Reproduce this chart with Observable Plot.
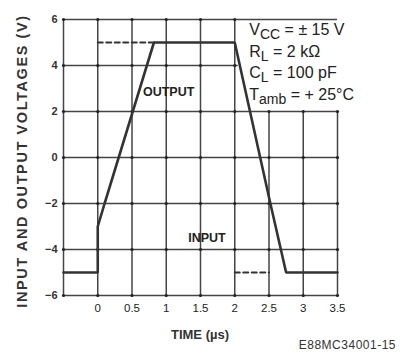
<!DOCTYPE html>
<html>
<head>
<meta charset="utf-8">
<script src="https://cdn.jsdelivr.net/npm/d3@7"></script>
<script src="https://cdn.jsdelivr.net/npm/@observablehq/plot@0.6"></script>
<style>
  html, body { margin: 0; padding: 0; background: #ffffff; }
  #chart { width: 404px; height: 355px; }
</style>
</head>
<body>
<div id="chart"></div>
<script>
// ---- data ----
const timeTicks = [0, 0.5, 1, 1.5, 2, 2.5, 3, 3.5];
const timeTickLabels = ["0", "0.5", "1", "1.5", "2", "2.5", "3", "3.5"];
const voltTicks = [-6, -4, -2, 0, 2, 4, 6];
const voltTickLabels = ["\u22126", "\u22124", "\u22122", "0", "2", "4", "6"];
const timeDomain = [-0.5, 3.5];
const voltDomain = [-6, 6];

// output waveform (solid)
const outputT = [-0.5, 0, 0, 0.1, 0.82, 2.0, 2.52, 2.75, 3.5];
const outputV = [-5, -5, -3, -2, 5, 5, -2, -5, -5];
// input waveform, parts not covered by output (dashed)
const inputRiseT = [0, 0.82];
const inputRiseV = [5, 5];
const inputFallT = [2, 2.5];
const inputFallV = [-5, -5];

// conditions box (grid hidden there)
const boxT = [2, 3.5];
const boxV = [2, 6];
const conditions = [
  ["V", "CC", " = \u00b1 15 V"],
  ["R", "L", " = 2 k\u03a9"],
  ["C", "L", " = 100 pF"],
  ["T", "amb", " = + 25\u00b0C"]
];

// ---- build ----
const output = outputT.map((t, i) => ({t, v: outputV[i]}));
const inRise = inputRiseT.map((t, i) => ({t, v: inputRiseV[i]}));
const inFall = inputFallT.map((t, i) => ({t, v: inputFallV[i]}));
const gridX = [timeDomain[0], ...timeTicks];
const inBoxT = t => t > boxT[0] && t <= boxT[1];
const inBoxV = v => v > boxV[0] && v < boxV[1];

const vTop = t => inBoxT(t) ? boxV[0] : voltDomain[1];
const hRight = v => (inBoxV(v) && v !== voltDomain[1]) ? boxT[0] + 0.05 : timeDomain[1];

const crossings = [];
for (const t of gridX) for (const v of voltTicks) {
  if (inBoxT(t) && v > boxV[0]) continue;
  crossings.push({t, v});
}

const ink = "#333";
const grid = "#444";

const plot = Plot.plot({
  width: 404,
  height: 355,
  marginLeft: 63,
  marginRight: 67,
  marginTop: 19,
  marginBottom: 60,
  style: {background: "#ffffff", fontFamily: "'Liberation Sans', Arial, sans-serif", color: "#222"},
  x: {domain: timeDomain},
  y: {domain: voltDomain},
  marks: [
    Plot.ruleX(gridX, {x: d => d, y1: voltDomain[0], y2: d => vTop(d), stroke: grid, strokeWidth: 1.5}),
    Plot.ruleY(voltTicks, {y: d => d, x1: timeDomain[0], x2: d => hRight(d), stroke: grid, strokeWidth: 1.5}),
    Plot.dot(crossings, {x: "t", y: "v", r: 1.6, fill: "#222", stroke: "none"}),
    Plot.line(inRise, {x: "t", y: "v", stroke: ink, strokeWidth: 2, strokeDasharray: "5,3.5"}),
    Plot.line(inFall, {x: "t", y: "v", stroke: ink, strokeWidth: 2, strokeDasharray: "5,3.5"}),
    Plot.line(output, {x: "t", y: "v", stroke: ink, strokeWidth: 2.6, strokeLinejoin: "miter"}),
    Plot.axisX(timeTicks, {tickSize: 0, tickPadding: 8, fontSize: 11.5, fill: "#222",
      tickFormat: d => timeTickLabels[timeTicks.indexOf(d)], label: null}),
    Plot.axisY(voltTicks, {tickSize: 0, tickPadding: 6, fontSize: 11, fontWeight: "bold", fill: "#333",
      tickFormat: d => voltTickLabels[voltTicks.indexOf(d)], label: null}),
    Plot.text(["OUTPUT"], {x: 0.66, y: 2.85, text: d => d, fontSize: 12.5, fontWeight: "bold", fill: "#222", textAnchor: "start"}),
    Plot.text(["INPUT"], {x: 1.32, y: -3.5, text: d => d, fontSize: 12.5, fontWeight: "bold", fill: "#222", textAnchor: "start"})
  ]
});

document.getElementById("chart").appendChild(plot);

// extra labels using plot scales
const svg = d3.select(plot);
const sx = plot.scale("x"), sy = plot.scale("y");

svg.append("text")
  .attr("transform", `translate(27,${(sy.apply(voltDomain[0]) + sy.apply(voltDomain[1])) / 2 + 4}) rotate(-90)`)
  .attr("text-anchor", "middle")
  .attr("font-size", 14.5).attr("font-weight", "bold").attr("fill", "#333")
  .attr("letter-spacing", 1.6)
  .text("INPUT AND OUTPUT VOLTAGES (V)");

svg.append("text")
  .attr("x", (sx.apply(timeDomain[0]) + sx.apply(timeDomain[1])) / 2)
  .attr("y", 339)
  .attr("text-anchor", "middle")
  .attr("font-size", 13).attr("font-weight", "bold").attr("fill", "#333")
  .text("TIME (\u00b5s)");

svg.append("text")
  .attr("x", 396).attr("y", 349)
  .attr("text-anchor", "end")
  .attr("font-size", 12).attr("letter-spacing", 0.5).attr("fill", "#333")
  .text("E88MC34001-15");

const cx = sx.apply(boxT[0]) + 15;
conditions.forEach(([main, sub, rest], i) => {
  const t = svg.append("text")
    .attr("x", cx).attr("y", 35 + i * 21.5)
    .attr("text-anchor", "start")
    .attr("font-size", 16).attr("fill", "#222");
  t.append("tspan").text(main);
  t.append("tspan").attr("dy", 4).attr("font-size", 14).text(sub);
  t.append("tspan").attr("dy", -4).text(rest);
});
</script>
</body>
</html>
